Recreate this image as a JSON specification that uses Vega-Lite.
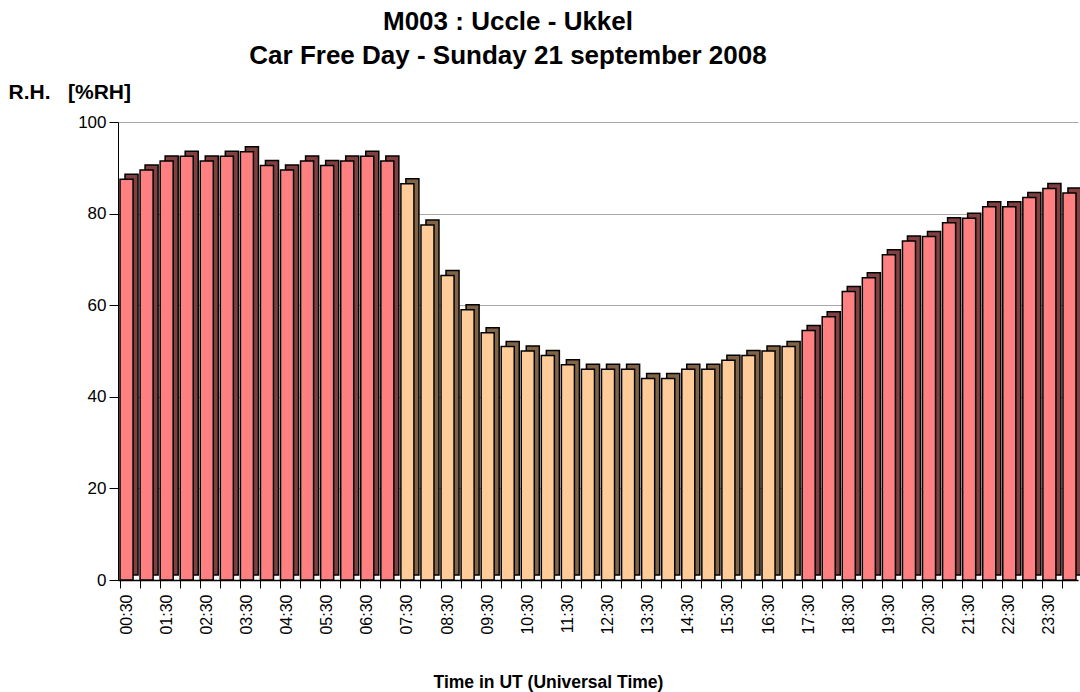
{
  "$schema": "https://vega.github.io/schema/vega-lite/v6.json",
  "autosize": {"type": "none"},
  "width": 960,
  "height": 458,
  "padding": {"left": 118, "top": 122, "right": 2, "bottom": 112},
  "background": "white",
  "config": {
    "font": "Liberation Sans",
    "view": {"stroke": null}
  },
  "title": {
    "text": ["M003 : Uccle - Ukkel", "Car Free Day - Sunday 21 september 2008"],
    "fontSize": 26,
    "fontWeight": "bold",
    "font": "Liberation Sans",
    "color": "black",
    "lineHeight": 34,
    "anchor": "middle",
    "frame": "group",
    "dx": -90,
    "offset": 12
  },
  "data": {
    "values": [
      {"t": "00:30", "rh": 87.5, "p": "night"},
      {"t": "01:00", "rh": 89.5, "p": "night"},
      {"t": "01:30", "rh": 91.5, "p": "night"},
      {"t": "02:00", "rh": 92.5, "p": "night"},
      {"t": "02:30", "rh": 91.5, "p": "night"},
      {"t": "03:00", "rh": 92.5, "p": "night"},
      {"t": "03:30", "rh": 93.5, "p": "night"},
      {"t": "04:00", "rh": 90.5, "p": "night"},
      {"t": "04:30", "rh": 89.5, "p": "night"},
      {"t": "05:00", "rh": 91.5, "p": "night"},
      {"t": "05:30", "rh": 90.5, "p": "night"},
      {"t": "06:00", "rh": 91.5, "p": "night"},
      {"t": "06:30", "rh": 92.5, "p": "night"},
      {"t": "07:00", "rh": 91.5, "p": "night"},
      {"t": "07:30", "rh": 86.5, "p": "day"},
      {"t": "08:00", "rh": 77.5, "p": "day"},
      {"t": "08:30", "rh": 66.5, "p": "day"},
      {"t": "09:00", "rh": 59, "p": "day"},
      {"t": "09:30", "rh": 54, "p": "day"},
      {"t": "10:00", "rh": 51, "p": "day"},
      {"t": "10:30", "rh": 50, "p": "day"},
      {"t": "11:00", "rh": 49, "p": "day"},
      {"t": "11:30", "rh": 47, "p": "day"},
      {"t": "12:00", "rh": 46, "p": "day"},
      {"t": "12:30", "rh": 46, "p": "day"},
      {"t": "13:00", "rh": 46, "p": "day"},
      {"t": "13:30", "rh": 44, "p": "day"},
      {"t": "14:00", "rh": 44, "p": "day"},
      {"t": "14:30", "rh": 46, "p": "day"},
      {"t": "15:00", "rh": 46, "p": "day"},
      {"t": "15:30", "rh": 48, "p": "day"},
      {"t": "16:00", "rh": 49, "p": "day"},
      {"t": "16:30", "rh": 50, "p": "day"},
      {"t": "17:00", "rh": 51, "p": "day"},
      {"t": "17:30", "rh": 54.5, "p": "night"},
      {"t": "18:00", "rh": 57.5, "p": "night"},
      {"t": "18:30", "rh": 63, "p": "night"},
      {"t": "19:00", "rh": 66, "p": "night"},
      {"t": "19:30", "rh": 71, "p": "night"},
      {"t": "20:00", "rh": 74, "p": "night"},
      {"t": "20:30", "rh": 75, "p": "night"},
      {"t": "21:00", "rh": 78, "p": "night"},
      {"t": "21:30", "rh": 79, "p": "night"},
      {"t": "22:00", "rh": 81.5, "p": "night"},
      {"t": "22:30", "rh": 81.5, "p": "night"},
      {"t": "23:00", "rh": 83.5, "p": "night"},
      {"t": "23:30", "rh": 85.5, "p": "night"},
      {"t": "24:00", "rh": 84.5, "p": "night"}
    ]
  },
  "encoding": {
    "x": {
      "field": "t",
      "type": "ordinal",
      "sort": null,
      "scale": {"paddingInner": 0.35, "paddingOuter": 0.1},
      "axis": {
        "title": "Time in UT (Universal Time)",
        "titleFontSize": 17.5,
        "titleFontWeight": "bold",
        "titleColor": "black",
        "titleX": 430,
        "titleY": 107,
        "titleBaseline": "alphabetic",
        "labelAngle": -90,
        "labelFontSize": 16,
        "labelColor": "black",
        "labelPadding": 6,
        "labelExpr": "slice(datum.label, 3) == '30' ? datum.label : ''",
        "bandPosition": 0,
        "tickColor": "black",
        "tickSize": 8,
        "domainColor": "black",
        "domainWidth": 1.5
      }
    },
    "y": {
      "field": "rh",
      "type": "quantitative",
      "scale": {"domain": [0, 100], "nice": false},
      "axis": {
        "title": "R.H.\u00a0\u00a0 [%RH]",
        "titleAngle": 0,
        "titleAlign": "left",
        "titleBaseline": "middle",
        "titleX": -110,
        "titleY": -30,
        "titleFontSize": 21,
        "titleFontWeight": "bold",
        "titleColor": "black",
        "values": [0, 20, 40, 60, 80, 100],
        "labelFontSize": 17,
        "labelColor": "black",
        "labelPadding": 3,
        "tickColor": "black",
        "tickSize": 9,
        "domainColor": "black",
        "gridColor": "#a8a8a8",
        "gridWidth": 1
      }
    }
  },
  "layer": [
    {
      "mark": {"type": "bar", "xOffset": 5, "yOffset": -5, "stroke": "black", "strokeWidth": 1.5},
      "encoding": {
        "color": {
          "field": "p",
          "type": "nominal",
          "scale": {"domain": ["night", "day"], "range": ["#804040", "#806445"]},
          "legend": null
        }
      }
    },
    {
      "mark": {"type": "bar", "stroke": "black", "strokeWidth": 1.5},
      "encoding": {
        "color": {
          "field": "p",
          "type": "nominal",
          "scale": {"domain": ["night", "day"], "range": ["#ff8080", "#ffcc99"]},
          "legend": null
        }
      }
    }
  ],
  "resolve": {"scale": {"color": "independent"}}
}
